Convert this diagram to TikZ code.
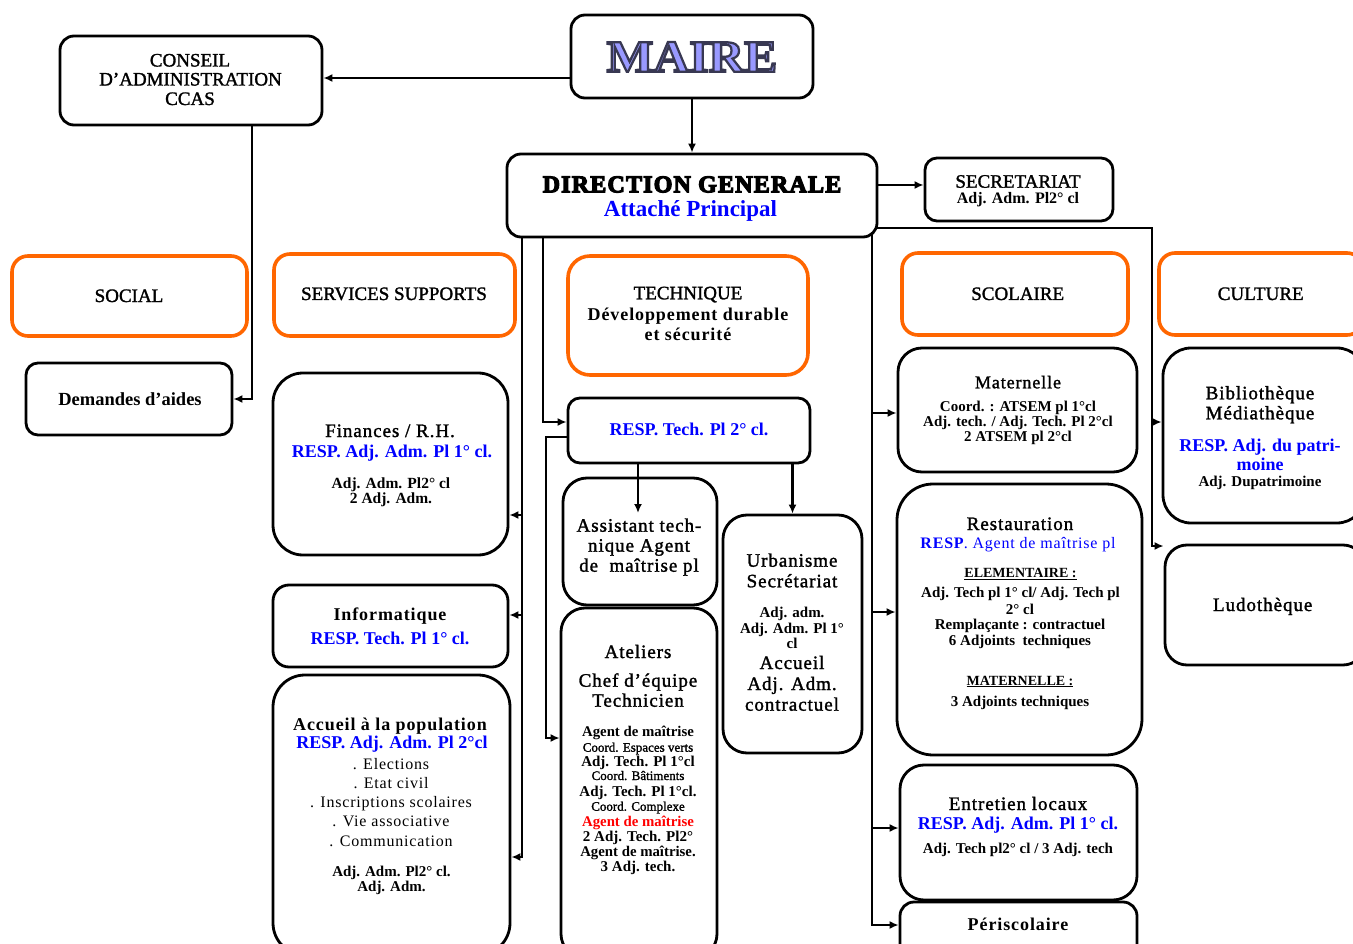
\documentclass[tikz,border=0pt]{standalone}
\usepackage{fontspec}
\setmainfont{Liberation Serif}[UprightFeatures={FakeBold=1.5}]
\newfontfamily\spcfam{Liberation Serif}[LetterSpace=5,UprightFeatures={FakeBold=1.5}]
\newfontfamily\lstfam{Liberation Serif}[LetterSpace=5]
\newfontfamily\dgfont{Liberation Serif}[BoldFeatures={FakeBold=5},LetterSpace=5]
\newfontfamily\mairefont{Liberation Serif}[BoldFeatures={FakeBold=5,FakeStretch=1.1}]
\usetikzlibrary{arrows.meta}
\definecolor{orng}{RGB}{255,102,0}
\definecolor{rblue}{RGB}{0,0,255}
\definecolor{rred}{RGB}{255,0,0}
\newcommand\mycap{\fontsize{19}{22}\selectfont}
\newcommand\mytit{\spcfam\fontsize{19}{22}\selectfont}
\newcommand\mybt{\spcfam\bfseries\fontsize{18}{21}\selectfont}
\newcommand\myrsp{\bfseries\fontsize{18}{20}\selectfont\color{rblue}}
\newcommand\mydet{\bfseries\fontsize{15}{16}\selectfont}
\newcommand\mysm{\fontsize{13}{14}\selectfont}
\newcommand\mylst{\lstfam\fontsize{16}{18}\selectfont}
\tikzset{
  box/.style={draw=black, line width=2.8pt, rectangle, inner sep=0pt, fill=white},
  obox/.style={box, draw=orng, line width=3.6pt},
  conn/.style={line width=2.5pt, line cap=rect},
  arr/.style={line width=2.5pt, -{Latex[length=9pt,width=8pt]}},
  txt/.style={inner sep=0pt, anchor=base},
}
\begin{document}
\begin{tikzpicture}[x=1pt,y=-1pt]
\useasboundingbox (0,0) rectangle (1353,944);
\fill[white] (0,0) rectangle (1353,944);
\clip (0,0) rectangle (1353,944);

% ---------- boxes ----------
\node[box, rounded corners=14pt, minimum width=262pt, minimum height=89pt] (cons) at (191,80.5) {};
\node[box, rounded corners=14pt, minimum width=242pt, minimum height=83pt] (maire) at (692,56.5) {};
\node[box, rounded corners=14pt, minimum width=370pt, minimum height=83pt] (dg) at (692,195.5) {};
\node[box, rounded corners=12pt, minimum width=188pt, minimum height=63pt] (sec) at (1019,189.5) {};
\node[obox, rounded corners=16pt, minimum width=235pt, minimum height=80pt] (social) at (129.5,296) {};
\node[obox, rounded corners=16pt, minimum width=241pt, minimum height=82pt] (serv) at (394.5,295) {};
\node[obox, rounded corners=22pt, minimum width=240pt, minimum height=119pt] (tech) at (688,315.5) {};
\node[obox, rounded corners=16pt, minimum width=226pt, minimum height=82pt] (scol) at (1015,294) {};
\node[obox, rounded corners=16pt, minimum width=204pt, minimum height=82pt] (cult) at (1261,294) {};
\node[box, rounded corners=12pt, minimum width=206pt, minimum height=72pt] (dem) at (129,399) {};
\node[box, rounded corners=30pt, minimum width=235pt, minimum height=182pt] (fin) at (390.5,464) {};
\node[box, rounded corners=16pt, minimum width=235pt, minimum height=82pt] (info) at (390.5,626) {};
\node[box, rounded corners=32pt, minimum width=237pt, minimum height=280pt] (acc) at (391.5,815) {};
\node[box, rounded corners=12pt, minimum width=242pt, minimum height=65pt] (resp) at (689,430.5) {};
\node[box, rounded corners=24pt, minimum width=154pt, minimum height=127pt] (assist) at (640,541.5) {};
\node[box, rounded corners=24pt, minimum width=156pt, minimum height=350pt] (atel) at (639,783) {};
\node[box, rounded corners=24pt, minimum width=139pt, minimum height=238pt] (urb) at (792.5,634) {};
\node[box, rounded corners=24pt, minimum width=239pt, minimum height=124pt] (mat) at (1017.5,410) {};
\node[box, rounded corners=28pt, minimum width=202pt, minimum height=175pt] (bib) at (1264,435.5) {};
\node[box, rounded corners=36pt, minimum width=245pt, minimum height=271pt] (rest) at (1019.5,619.5) {};
\node[box, rounded corners=22pt, minimum width=200pt, minimum height=120pt] (ludo) at (1265,605) {};
\node[box, rounded corners=24pt, minimum width=237pt, minimum height=135pt] (entr) at (1018.5,832.5) {};
\node[box, rounded corners=14pt, minimum width=237pt, minimum height=68pt] (peri) at (1018.5,936) {};

% ---------- connector helper coordinates ----------
\coordinate (kc) at (252,401);
\coordinate (kf) at (522,515);
\coordinate (ki) at (522,615);
\coordinate (ka) at (522,857);
\coordinate (kr) at (543,422);
\coordinate (kr2) at (546,437);
\coordinate (kat) at (546,738);
\coordinate (ktop) at (872,233);
\coordinate (kmat) at (872,413);
\coordinate (krest) at (872,612);
\coordinate (kent) at (872,828);
\coordinate (kper) at (872,925);
\coordinate (kcu) at (1152,228);
\coordinate (kbib) at (1152,422);
\coordinate (kludo) at (1152,546);
\coordinate (kas) at (638,513);

% ---------- connectors ----------
\draw[arr] (maire.west |- 0,78) -- (cons.east |- 0,78);
\draw[arr] (maire.south) -- (dg.north);
\draw[arr] (cons.south -| kc) |- (dem.east);
\draw[arr] (dg.east |- 0,185) -- (sec.west |- 0,185);
\draw[conn] (dg.south -| ka) -- (ka);
\draw[arr] (kf) -- (kf -| fin.east);
\draw[arr] (ki) -- (ki -| info.east);
\draw[arr] (ka) -- (ka -| acc.east);
\draw[arr] (dg.south -| kr) |- (kr -| resp.west);
\draw[arr] (kr2 -| resp.west) -- (kr2) -- (kat) -- (kat -| atel.west);
\draw[conn] (ktop) -- (kper);
\draw[arr] (kmat) -- (kmat -| mat.west);
\draw[arr] (krest) -- (krest -| rest.west);
\draw[arr] (kent) -- (kent -| entr.west);
\draw[arr] (kper) -- (kper -| peri.west);
\draw[conn] (kcu -| dg.east) -- (kcu) -- (kludo);
\draw[arr] (kbib) -- (kbib -| bib.west);
\draw[arr] (kludo) -- (kludo -| ludo.west);
\draw[arr] (resp.south -| kas) -- (kas);
\draw[arr] (resp.south -| urb.north) -- (urb.north);

% ---------- texts ----------
\node[txt] (cons-t1) at (190,66.5) {\mycap CONSEIL};
\node[txt] (cons-t2) at (190.5,85.5) {\mycap D’ADMINISTRATION};
\node[txt] (cons-t3) at (190,105) {\mycap CCAS};

\node[txt] (maire-t) at (692,71.7) {\mairefont\bfseries\fontsize{45}{48}\selectfont\special{pdf:bcolor [0.6 0.6 1] [0.22 0.22 0.32]}MAIRE\special{pdf:ecolor}};

\node[txt] (dg-t1) at (692,192.3) {\dgfont\bfseries\fontsize{24}{26}\selectfont DIRECTION GENERALE};
\node[txt] (dg-t2) at (690.5,216.7) {\bfseries\fontsize{23}{25}\selectfont\color{rblue}Attaché Principal};

\node[txt] (sec-t1) at (1018,187.7) {\mycap SECRETARIAT};
\node[txt] (sec-t2) at (1018,203.3) {\bfseries\fontsize{16}{17}\selectfont Adj. Adm. Pl2° cl};

\node[txt] (social-t) at (129,302) {\mycap SOCIAL};
\node[txt] (serv-t) at (394,300) {\mycap SERVICES SUPPORTS};
\node[txt] (scol-t) at (1017.7,300) {\mycap SCOLAIRE};
\node[txt] (cult-t) at (1260.7,300) {\mycap CULTURE};

\node[txt] (tech-t1) at (688,299.3) {\mycap TECHNIQUE};
\node[txt] (tech-t2) at (688,320) {\mybt Développement durable};
\node[txt] (tech-t3) at (688,340) {\mybt et sécurité};

\node[txt] (dem-t) at (130,405) {\bfseries\fontsize{18.5}{20}\selectfont Demandes d’aides};

\node[txt] (fin-t1) at (390,437) {\mytit Finances / R.H.};
\node[txt] (fin-t2) at (392,457) {\myrsp RESP. Adj. Adm. Pl 1° cl.};
\node[txt] (fin-t3) at (391,488) {\bfseries\fontsize{15.5}{16}\selectfont Adj. Adm. Pl2° cl};
\node[txt] (fin-t4) at (391,503) {\bfseries\fontsize{15.5}{16}\selectfont 2 Adj. Adm.};

\node[txt] (info-t1) at (390,620) {\mybt Informatique};
\node[txt] (info-t2) at (390,644) {\myrsp RESP. Tech. Pl 1° cl.};

\node[txt] (acc-t1) at (390,730) {\mybt Accueil à la population};
\node[txt] (acc-t2) at (392,748.3) {\myrsp RESP. Adj. Adm. Pl 2°cl};
\node[txt] (acc-t3) at (391,769) {\mylst . Elections};
\node[txt] (acc-t4) at (391,788.3) {\mylst . Etat civil};
\node[txt] (acc-t5) at (391,807.3) {\mylst . Inscriptions scolaires};
\node[txt] (acc-t6) at (391,826.7) {\mylst . Vie associative};
\node[txt] (acc-t7) at (391,846) {\mylst . Communication};
\node[txt] (acc-t8) at (391.5,876.7) {\mydet Adj. Adm. Pl2° cl.};
\node[txt] (acc-t9) at (391.5,891.7) {\mydet Adj. Adm.};

\node[txt] (resp-t) at (689,435.7) {\myrsp RESP. Tech. Pl 2° cl.};

\node[txt] (assist-t1) at (639,531.7) {\mytit Assistant tech-};
\node[txt] (assist-t2) at (639,551.7) {\mytit nique Agent};
\node[txt] (assist-t3) at (639,571.7) {\mytit de\ \ maîtrise pl};

\node[txt] (atel-t1) at (638,658) {\mytit Ateliers};
\node[txt] (atel-t2) at (638,686.7) {\mytit Chef d’équipe};
\node[txt] (atel-t3) at (638,706.7) {\mytit Technicien};
\node[txt] (atel-t4) at (638,736.7) {\bfseries\fontsize{14.8}{15}\selectfont Agent de maîtrise};
\node[txt] (atel-t5) at (638,751.7) {\mysm Coord. Espaces verts};
\node[txt] (atel-t6) at (638,766.7) {\mydet Adj. Tech. Pl 1°cl};
\node[txt] (atel-t7) at (638,780) {\mysm Coord. Bâtiments};
\node[txt] (atel-t8) at (638,796.7) {\mydet Adj. Tech. Pl 1°cl.};
\node[txt] (atel-t9) at (638,810.7) {\mysm Coord. Complexe};
\node[txt] (atel-t10) at (638,826) {\bfseries\fontsize{14.8}{15}\selectfont\color{rred}Agent de maîtrise};
\node[txt] (atel-t11) at (638,841) {\mydet 2 Adj. Tech. Pl2°};
\node[txt] (atel-t12) at (638,856.7) {\bfseries\fontsize{14.8}{15}\selectfont Agent de maîtrise.};
\node[txt] (atel-t13) at (638,871.7) {\mydet 3 Adj. tech.};

\node[txt] (urb-t1) at (792,566.7) {\mytit Urbanisme};
\node[txt] (urb-t2) at (792,587.3) {\mytit Secrétariat};
\node[txt] (urb-t3) at (792,617.3) {\mydet Adj. adm.};
\node[txt] (urb-t4) at (792,633.3) {\mydet Adj. Adm. Pl 1°};
\node[txt] (urb-t5) at (792,648.3) {\mydet cl};
\node[txt] (urb-t6) at (792,669) {\mytit Accueil};
\node[txt] (urb-t7) at (792,690) {\mytit Adj. Adm.};
\node[txt] (urb-t8) at (792,710.7) {\mytit contractuel};

\node[txt] (mat-t1) at (1018,388.3) {\spcfam\fontsize{18}{20}\selectfont Maternelle};
\node[txt] (mat-t2) at (1018,411.7) {\mydet Coord. : ATSEM pl 1°cl};
\node[txt] (mat-t3) at (1018,426.7) {\mydet Adj. tech. / Adj. Tech. Pl 2°cl};
\node[txt] (mat-t4) at (1018,441.7) {\mydet 2 ATSEM pl 2°cl};

\node[txt] (bib-t1) at (1260,399.3) {\mytit Bibliothèque};
\node[txt] (bib-t2) at (1260,419.3) {\mytit Médiathèque};
\node[txt] (bib-t3) at (1260,451.7) {\myrsp RESP. Adj. du patri-};
\node[txt] (bib-t4) at (1260,470) {\myrsp moine};
\node[txt] (bib-t5) at (1260,486.7) {\mydet Adj. Dupatrimoine};

\node[txt] (rest-t1) at (1020,530) {\mytit Restauration};
\node[txt] (rest-t2) at (1018,548.3) {\lstfam\fontsize{16}{18}\selectfont\color{rblue}{\bfseries RESP}. Agent de maîtrise pl};
\node[txt] (rest-t3) at (1020.5,577.7) {\bfseries\fontsize{14}{15}\selectfont\underline{ELEMENTAIRE :}};
\node[txt] (rest-t4) at (1020.5,597.3) {\mydet Adj. Tech pl 1° cl/ Adj. Tech pl};
\node[txt] (rest-t5) at (1020,614) {\mydet 2° cl};
\node[txt] (rest-t6) at (1020,629) {\mydet Remplaçante : contractuel};
\node[txt] (rest-t7) at (1020,645) {\mydet 6 Adjoints\ \ techniques};
\node[txt] (rest-t8) at (1020,685) {\bfseries\fontsize{14}{15}\selectfont\underline{MATERNELLE :}};
\node[txt] (rest-t9) at (1020,706) {\mydet 3 Adjoints techniques};

\node[txt] (ludo-t) at (1262.7,611) {\mytit Ludothèque};

\node[txt] (entr-t1) at (1018,810) {\mytit Entretien locaux};
\node[txt] (entr-t2) at (1018,829.3) {\myrsp RESP. Adj. Adm. Pl 1° cl.};
\node[txt] (entr-t3) at (1018,853.3) {\mydet Adj. Tech pl2° cl / 3 Adj. tech};

\node[txt] (peri-t) at (1018,930.7) {\mybt Périscolaire};
\end{tikzpicture}
\end{document}
